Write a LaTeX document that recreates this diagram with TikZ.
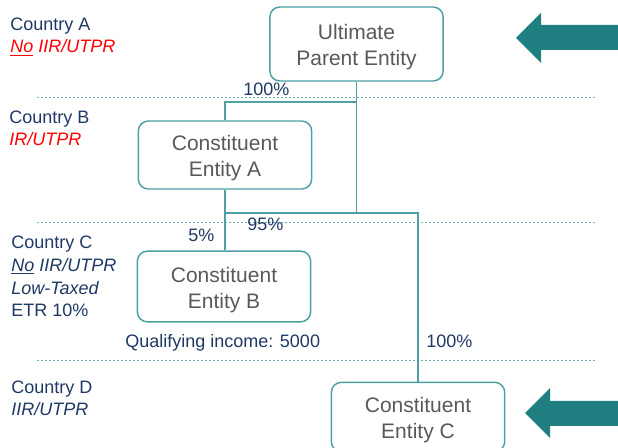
\documentclass[tikz,border=0pt]{standalone}
\usepackage{fontspec}
\setmainfont{Liberation Sans}
\definecolor{navytext}{RGB}{31,56,100}
\definecolor{boxgrey}{RGB}{89,89,89}
\definecolor{tealline}{RGB}{78,160,165}
\definecolor{tealarrow}{RGB}{31,127,128}
\newcommand{\topstrut}{\rule{0pt}{16.5pt}}

\begin{document}
\begin{tikzpicture}
[
x=0.75pt, y=-0.75pt,
entity/.style={draw=tealline, line width=1.1pt, rounded corners=7.5pt, fill=white, align=center,
               text=boxgrey, minimum width=130pt, minimum height=#1, inner sep=0pt,
               font=\fontsize{15.75}{19.5}\selectfont},
entity/.default=52pt,
country/.style={anchor=base west, align=left, inner sep=0pt, text=navytext,
                font=\fontsize{13.5}{17.2}\selectfont},
share/.style={anchor=base west, inner sep=0pt, text=navytext, font=\fontsize{13.5}{16}\selectfont},
link/.style={draw=tealline, line width=1.1pt},
tier/.style={draw=tealline!85, line width=0.75pt, dash pattern=on 1.5pt off 1.5pt},
bigarrow/.style={fill=tealarrow},
]
\clip (0,0) rectangle (618,448);

%Country borders
\foreach \y in {98,223,361}
  \draw[tier] (37,\y) -- (597,\y);

%Place the entities
\node[entity=55.5pt] (upe) at (356.5,44) {\topstrut Ultimate\\Parent Entity};
\node[entity=51pt] (cea) at (225,155) {\topstrut Constituent\\Entity A};
\node[entity=53pt] (ceb) at (224,286.5) {\topstrut Constituent\\Entity B};
\node[entity] (cec) at (418,417) {\topstrut Constituent\\Entity C};

%Countries (anchored at the last line)
\node[country] (ctya) at (10,53) {Country A\\\textcolor{red}{\itshape\underline{No} IIR/UTPR}};
\node[country] (ctyb) at (9,146) {Country B\\\textcolor{red}{\itshape IR/UTPR}};
\node[country] (ctyc) at (11,317) {Country C\\{\itshape\underline{No} IIR/UTPR}\\{\itshape Low-Taxed}\\ETR 10\%};
\node[country] (ctyd) at (11,416) {Country D\\{\itshape IIR/UTPR}};

%Shares and income
\node[share] (sha) at (243,96) {100\%};
\node[share] (shab) at (247,231) {95\%};
\node[share] (shb) at (188,242) {5\%};
\node[share] (incb) at (125,348) {Qualifying income: 5000};
\node[share] (shc) at (426,348) {100\%};

%Draw the connections
\coordinate (tierab) at (0,102);
\coordinate (tierbc) at (0,213);
\draw[link] (upe.south) -- (upe.south |- tierbc);
\draw[link] (upe.south |- tierab) -| (cea.north);
\draw[link] (cea.south) -- (cea.south |- ceb.north);
\draw[link] (cea.south |- tierbc) -| (cec.north);

%Arrows
\fill[bigarrow] (516,38) -- (541,13) -- (541,25) -- (630,25) -- (630,50) -- (541,50) -- (541,63) -- cycle;
\fill[bigarrow] (525,413) -- (550,388) -- (550,401) -- (630,401) -- (630,426) -- (550,426) -- (550,438) -- cycle;
\end{tikzpicture}
\end{document}
